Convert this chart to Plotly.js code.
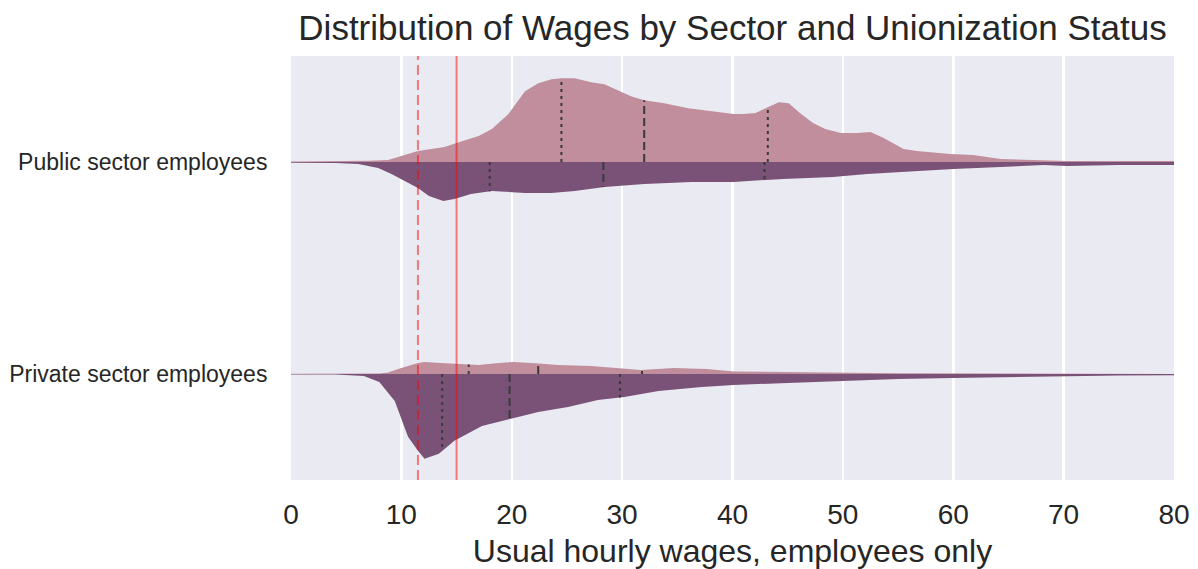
<!DOCTYPE html>
<html>
<head>
<meta charset="utf-8">
<script src="https://cdn.plot.ly/plotly-3.0.1.min.js"></script>
<style>html,body{margin:0;padding:0;background:#fff;}#chart{width:1198px;height:569px;}</style>
</head>
<body>
<div id="chart"></div>
<script>
// ---------- DATA ----------
const categories = ['Public sector employees', 'Private sector employees'];
const categoryPos = [1, 0];               // y-position of each category
const halfNames = ['Union member', 'Not union member'];

// Public sector, union (upper half) : wage grid and relative density
const pubUnionX = [-2, 0, 4, 7, 8.8, 10, 11.5, 12.1, 13.9, 15, 17, 18.2, 19.7, 21.2, 22.4, 23.6, 24.5, 25.7, 27.2, 28.4, 29.9, 30.8, 32, 33.8, 36, 38.1, 40.1, 41, 42.1, 43.2, 44.2, 45.1, 46.1, 47.3, 48.4, 49.8, 51.3, 52.5, 53.7, 55.5, 56.7, 59.7, 61.8, 64.3, 67.3, 70.3, 75, 82];
const pubUnionD = [0.3, 0.4, 0.8, 1.3, 2, 6, 11, 12, 15, 19, 26, 33, 48, 71, 79, 83, 84, 84, 80, 78, 71, 66, 62, 59, 54, 51, 48, 48, 49, 55, 60, 59, 49, 39, 33, 29, 29, 30, 24, 13, 11, 8, 7, 3, 2, 1, 1, 1];

// Public sector, non-union (lower half)
const pubNonX = [-2, 0, 4, 6.1, 7.9, 9.1, 10, 11.5, 12.5, 13.8, 14.8, 16.3, 18.2, 21.2, 23.6, 25.7, 28.4, 32, 36.3, 40.1, 44.6, 49.1, 52.2, 55.2, 60, 64.3, 68.2, 70.3, 75, 82];
const pubNonD = [0.5, 0.6, 1, 2, 6, 12, 17, 26, 34, 39, 37, 32, 29, 31, 31, 29, 25, 22, 20, 20, 17, 15, 12, 10, 7, 5, 3, 4, 3, 3];

// Private sector, union (upper half)
const privUnionX = [-2, 0, 6, 8, 8.8, 9.7, 11.5, 12.1, 13.6, 15.2, 17, 18.8, 20.1, 21.8, 24.2, 27.2, 29.9, 31.7, 34.7, 37.7, 40.1, 44, 49, 55, 65, 82];
const privUnionD = [0.3, 0.3, 0.4, 0.6, 1.5, 5, 11, 12, 11, 10, 9, 11, 12, 11, 9, 8, 6, 4, 6, 5, 2.5, 2, 1, 0.8, 0.6, 0.5];

// Private sector, non-union (lower half)
const privNonX = [-2, 0, 4, 6.6, 8, 9.4, 10.6, 11.5, 12.1, 13.4, 14.8, 17.3, 20, 22.4, 25.1, 27.8, 30.2, 33.3, 37.2, 40.1, 45, 50, 55, 60, 65, 70.3, 75, 82];
const privNonD = [0.3, 0.4, 0.6, 2, 8, 27, 63, 77, 85, 80, 67, 52, 45, 38, 33, 26, 23, 17, 13, 11, 9, 7, 5, 4, 3, 2, 1.5, 1.2];

// Quartiles [Q1, median, Q3]
const pubUnionQ = [24.5, 32.0, 43.2];
const pubNonQ = [18.0, 28.3, 42.9];
const privUnionQ = [16.1, 22.4, 31.8];
const privNonQ = [13.7, 19.8, 29.8];

// Reference wage lines (dashed, solid)
const refWages = [11.5, 15];

// ---------- STYLE ----------
const unionColor = '#c08e9c';
const nonColor = '#7b5277';
const densScale = 1 / 212.5;   // density units -> category units
const font = 'Liberation Sans, Arial, sans-serif';
const textColor = '#262626';

function interp(xs, ds, x) {
  for (let i = 0; i < xs.length - 1; i++) {
    if (x >= xs[i] && x <= xs[i + 1]) {
      const t = (x - xs[i]) / (xs[i + 1] - xs[i]);
      return ds[i] + t * (ds[i + 1] - ds[i]);
    }
  }
  return 0;
}

function halfTrace(xs, ds, base, sign, color, name) {
  const x = xs.concat(xs.slice().reverse());
  const y = ds.map(d => base + sign * d * densScale).concat(xs.map(() => base));
  return {type: 'scatter', mode: 'lines', x: x, y: y, fill: 'toself',
          fillcolor: color, line: {width: 0, color: color}, hoverinfo: 'skip',
          name: name, showlegend: false};
}

const halves = [
  [pubUnionX, pubUnionD, categoryPos[0], 1, unionColor, pubUnionQ],
  [pubNonX, pubNonD, categoryPos[0], -1, nonColor, pubNonQ],
  [privUnionX, privUnionD, categoryPos[1], 1, unionColor, privUnionQ],
  [privNonX, privNonD, categoryPos[1], -1, nonColor, privNonQ]
];

const traces = [];
halves.forEach(h => traces.push(halfTrace(h[0], h[1], h[2], h[3], h[4], halfNames[h[3] > 0 ? 0 : 1])));

// quartile lines
const dotX = [], dotY = [], dashX = [], dashY = [];
halves.forEach(h => {
  h[5].forEach((q, k) => {
    const top = h[2] + h[3] * interp(h[0], h[1], q) * densScale;
    if (k === 1) { dashX.push(q, q, null); dashY.push(h[2], top, null); }
    else { dotX.push(q, q, null); dotY.push(h[2], top, null); }
  });
});
traces.push({type: 'scatter', mode: 'lines', x: dotX, y: dotY, line: {color: '#3a3a3a', width: 2, dash: '3px,4px'}, hoverinfo: 'skip', showlegend: false});
traces.push({type: 'scatter', mode: 'lines', x: dashX, y: dashY, line: {color: '#3a3a3a', width: 2, dash: '8px,4px'}, hoverinfo: 'skip', showlegend: false});

const shapes = refWages.map((w, i) => ({
  type: 'line', xref: 'x', yref: 'paper', x0: w, x1: w, y0: 0, y1: 1, layer: 'above',
  line: {color: 'rgba(255,0,0,0.5)', width: 2, dash: i === 0 ? '10px,5px' : 'solid'}
}));

const layout = {
  width: 1198, height: 569,
  margin: {l: 291, r: 24, t: 56, b: 89},
  paper_bgcolor: '#ffffff', plot_bgcolor: '#eaeaf2',
  font: {family: font, color: textColor},
  title: {text: 'Distribution of Wages by Sector and Unionization Status',
          font: {size: 35, family: font, color: textColor},
          x: 0.5, xref: 'paper', y: 1 - 28 / 569, yref: 'container', yanchor: 'middle'},
  xaxis: {range: [0, 80], tick0: 0, dtick: 10, showgrid: true, gridcolor: '#ffffff', gridwidth: 2.5,
          zeroline: false, showline: false, ticks: 'outside', ticklen: 9, tickcolor: 'rgba(0,0,0,0)',
          tickfont: {size: 28, color: textColor},
          title: {text: 'Usual hourly wages, employees only', font: {size: 32, color: textColor}, standoff: 11}},
  yaxis: {range: [-0.5, 1.5], tickvals: categoryPos, ticktext: categories, showgrid: false,
          zeroline: false, showline: false, ticks: 'outside', ticklen: 18, tickcolor: 'rgba(0,0,0,0)',
          tickfont: {size: 23, color: textColor}, fixedrange: true},
  shapes: shapes,
  showlegend: false
};

Plotly.newPlot('chart', traces, layout, {displayModeBar: false, staticPlot: true});
</script>
</body>
</html>
